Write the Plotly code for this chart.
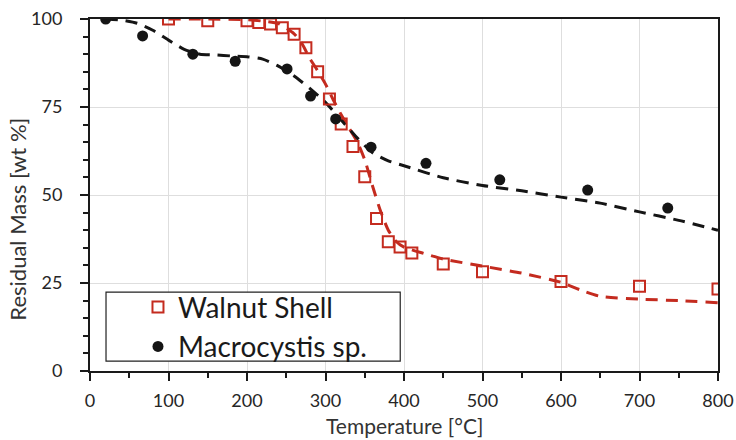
import plotly.graph_objects as go

# Measured TGA points
walnut_temp = [100, 150, 200, 215, 230, 245, 260, 275, 290, 305, 320, 335, 350,
               365, 380, 395, 410, 450, 500, 600, 700, 800]
walnut_mass = [100, 99.5, 99.5, 99.0, 98.6, 97.5, 95.7, 91.8, 85.0, 77.3, 70.2,
               63.8, 55.2, 43.3, 36.7, 35.2, 33.5, 30.4, 28.2, 25.4, 24.1, 23.3]

macro_temp = [20, 67, 131, 185, 251, 281, 313, 358, 428, 522, 634, 736]
macro_mass = [100, 95.2, 90.0, 88.0, 85.8, 78.1, 71.6, 63.6, 59.0, 54.3, 51.4, 46.3]

# Fitted trend curves
walnut_fit_temp = [100, 150, 200, 220, 240, 260, 270, 280, 290, 300, 310, 320, 330,
                   340, 350, 360, 370, 380, 390, 400, 425, 450, 500, 550, 600,
                   625, 650, 700, 750, 800]
walnut_fit_mass = [100, 100, 99.8, 99.4, 98.7, 95.8, 93.0, 88.8, 85.3, 81.5, 77.0,
                   72.8, 69.0, 65.3, 60.0, 52.5, 45.5, 40.0, 36.8, 35.2, 33.4, 31.8,
                   29.8, 27.8, 25.2, 23.0, 21.2, 20.4, 20.0, 19.4]

macro_fit_temp = [20, 40, 60, 80, 100, 120, 140, 160, 180, 200, 220, 240, 260, 280,
                  300, 320, 340, 360, 380, 400, 450, 500, 550, 600, 650, 700, 750, 800]
macro_fit_mass = [100, 99.7, 98.8, 96.8, 94.0, 91.4, 90.0, 89.8, 89.5, 89.3, 88.6,
                  86.6, 83.8, 80.3, 76.3, 71.3, 66.3, 62.0, 59.7, 58.3, 54.9, 52.7,
                  51.2, 49.4, 47.7, 45.2, 42.8, 40.0]

x_title = "Temperature [°C]"
y_title = "Residual Mass [wt %]"

RED = "#c42b1f"
BLACK = "#151515"
FONT = "Lato"

fig = go.Figure()

fig.add_trace(go.Scatter(
    x=walnut_fit_temp, y=walnut_fit_mass, mode="lines", showlegend=False,
    line=dict(color=RED, width=3, dash="12px,8px", shape="spline", smoothing=0.6),
    hoverinfo="skip"))
fig.add_trace(go.Scatter(
    x=macro_fit_temp, y=macro_fit_mass, mode="lines", showlegend=False,
    line=dict(color=BLACK, width=3, dash="12px,8px", shape="spline", smoothing=0.6),
    hoverinfo="skip"))

fig.add_trace(go.Scatter(
    x=walnut_temp, y=walnut_mass, mode="markers", name="Walnut Shell",
    marker=dict(symbol="square-open", size=11, color=RED, line=dict(width=2, color=RED))))
fig.add_trace(go.Scatter(
    x=macro_temp, y=macro_mass, mode="markers", name="Macrocystis sp.",
    marker=dict(symbol="circle", size=11, color=BLACK)))

# Frame around the legend
fig.add_shape(type="rect", xref="paper", yref="paper",
              x0=0.0255, x1=0.494, y0=0.028, y1=0.224,
              line=dict(color="#222222", width=1.2), fillcolor="white", layer="above")

# Axis titles placed as annotations for precise positioning
fig.add_annotation(text=x_title, xref="paper", yref="paper", x=0.5, y=0,
                   xanchor="center", yanchor="middle", yshift=-54, showarrow=False,
                   font=dict(size=21, color="#333333", family=FONT))
fig.add_annotation(text=y_title, xref="paper", yref="paper", x=0, y=0.43,
                   xanchor="center", yanchor="middle", xshift=-72, textangle=-90,
                   showarrow=False, font=dict(size=22, color="#333333", family=FONT))

fig.update_layout(
    width=736, height=440,
    margin=dict(l=90, r=18, t=19, b=69),
    paper_bgcolor="white", plot_bgcolor="white",
    font=dict(family=FONT, color="#262626"),
    legend=dict(
        x=0.0764, y=0.252, xanchor="left", yanchor="top",
        bgcolor="rgba(0,0,0,0)", borderwidth=0,
        font=dict(size=28, color="#1a1a1a", family=FONT),
    ),
    xaxis=dict(
        range=[0, 800], tickvals=[0, 100, 200, 300, 400, 500, 600, 700, 800],
        automargin=False,
        showgrid=True, gridcolor="#dedede", gridwidth=1,
        showline=True, linecolor="#1a1a1a", linewidth=2, mirror=True,
        ticks="outside", ticklen=8, tickwidth=1.5, tickcolor="#1a1a1a",
        minor=dict(dtick=50, ticks="outside", ticklen=5, tickwidth=1.5,
                   tickcolor="#1a1a1a", showgrid=False),
        tickfont=dict(size=18, color="#262626"), ticklabelstandoff=4,
        zeroline=False,
    ),
    yaxis=dict(
        range=[0, 100], tickvals=[0, 25, 50, 75, 100],
        automargin=False,
        showgrid=True, gridcolor="#dedede", gridwidth=1,
        showline=True, linecolor="#1a1a1a", linewidth=2, mirror=True,
        ticks="outside", ticklen=8, tickwidth=1.5, tickcolor="#1a1a1a",
        minor=dict(dtick=5, ticks="outside", ticklen=5, tickwidth=1.5,
                   tickcolor="#1a1a1a", showgrid=False),
        tickfont=dict(size=18, color="#262626"), ticklabelstandoff=14,
        zeroline=False,
    ),
)

fig.write_html("out.html")
